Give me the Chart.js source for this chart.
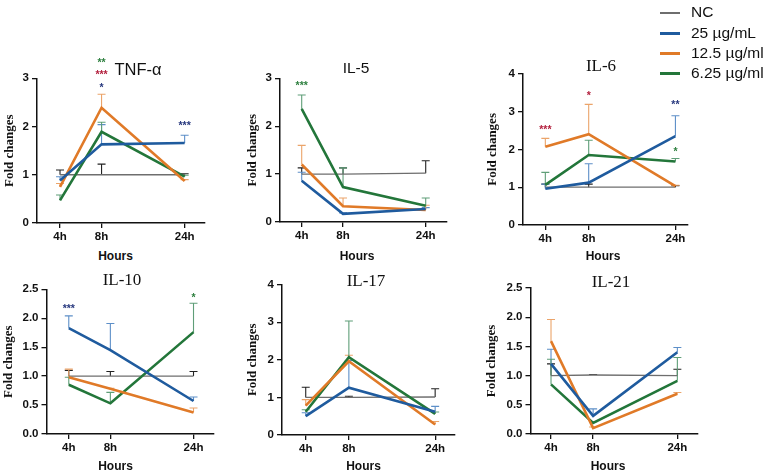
<!DOCTYPE html>
<html>
<head>
<meta charset="utf-8">
<script src="https://cdn.jsdelivr.net/npm/chart.js@4.4.1/dist/chart.umd.min.js"></script>
<style>
  body { margin: 0; background: #fff; }
  #wrap { position: relative; width: 766px; height: 476px; overflow: hidden; font-family: "Liberation Sans", Arial, sans-serif; color: #111; }
  #wrap canvas { position: absolute; }
  .txt { position: absolute; transform: translate(-50%, -50%); white-space: nowrap; line-height: 1; }
  .hrs { font-weight: bold; font-size: 12px; }
  .leg { position: absolute; left: 660px; height: 20px; font-size: 15.5px; line-height: 20px; white-space: nowrap; }
  .leg i { display: inline-block; width: 20px; vertical-align: middle; margin-right: 11px; }
</style>
</head>
<body>
<div id="wrap"></div>
<script>
const hours = ['4h', '8h', '24h']
const hourSlot = [1, 2, 4]
const groups = ['NC', '25 µg/mL', '12.5 µg/ml', '6.25 µg/ml']

// mean fold change per group (NC, 25, 12.5, 6.25), then the upper error
const tnfMean = [[1.00, 1.00, 1.00], [0.88, 1.63, 1.66], [0.75, 2.39, 0.87], [0.47, 1.89, 0.96]]
const tnfErr = [[0.10, 0.22, 0.02], [0.08, 0.41, 0.16], [0.07, 0.28, 0.03], [0.11, 0.20, 0.03]]
const il5Mean = [[1.00, 1.00, 1.02], [0.86, 0.17, 0.27], [1.20, 0.33, 0.25], [2.36, 0.73, 0.34]]
const il5Err = [[0.13, 0.13, 0.26], [0.18, 0.02, 0.03], [0.40, 0.17, 0.10], [0.29, 0.40, 0.16]]
const il6Mean = [[1.00, 1.00, 1.00], [0.96, 1.12, 2.35], [2.07, 2.40, 1.03], [1.06, 1.85, 1.68]]
const il6Err = [[0.08, 0.08, 0.04], [0.12, 0.50, 0.54], [0.22, 0.79, 0.02], [0.33, 0.39, 0.08]]
const il10Mean = [[1.00, 1.00, 1.00], [1.83, 1.45, 0.57], [0.98, 0.78, 0.37], [0.85, 0.53, 1.76]]
const il10Err = [[0.10, 0.08, 0.08], [0.21, 0.46, 0.07], [0.14, 0.01, 0.08], [0.13, 0.19, 0.50]]
const il17Mean = [[1.00, 1.00, 1.01], [0.50, 1.26, 0.62], [0.78, 1.96, 0.28], [0.62, 2.07, 0.56]]
const il17Err = [[0.27, 0.03, 0.22], [0.09, 0.72, 0.14], [0.16, 0.16, 0.08], [0.05, 0.96, 0.05]]
const il21Mean = [[1.00, 1.01, 1.00], [1.20, 0.31, 1.40], [1.59, 0.10, 0.69], [0.85, 0.19, 0.91]]
const il21Err = [[0.20, 0.01, 0.11], [0.25, 0.12, 0.08], [0.37, 0.02, 0.02], [0.43, 0.02, 0.40]]

// significance marks: [hour index, group index, mark, level on the y axis]
const tnfStars = [[1, 3, '**', 3.38], [1, 2, '***', 3.14], [1, 1, '*', 2.86], [2, 1, '***', 2.08]]
const il5Stars = [[0, 3, '***', 2.9]]
const il6Stars = [[0, 2, '***', 2.58], [1, 2, '*', 3.5], [2, 1, '**', 3.24], [2, 3, '*', 2.0]]
const il10Stars = [[0, 1, '***', 2.21], [2, 3, '*', 2.40]]

const lineColors = ['#6e6e6e', '#1f5b9e', '#e07a28', '#23763a']
const errColors = ['#222', '#5d8fc8', '#eba46a', '#5f9e78']
const starColors = ['#222', '#27387e', '#b3203e', '#2f8040']

const panels = [
  { title: 'TNF-α', serif: false, fs: 16.5, tx: 138, ty: 69, top: 0, L: 37, R: 205, T: 78.3, B: 222.7, yt: 10, xmin: 0.446, xmax: 4.49, ymax: 3, step: 1, hx: 115.5, hy: 256, mean: tnfMean, err: tnfErr, stars: tnfStars },
  { title: 'IL-5', serif: false, fs: 15.5, tx: 356, ty: 68, top: 0, L: 280, R: 447, T: 78.3, B: 221.7, yt: 253, xmin: 0.475, xmax: 4.515, ymax: 3, step: 1, hx: 357, hy: 256, mean: il5Mean, err: il5Err, stars: il5Stars },
  { title: 'IL-6', serif: true, fs: 17, tx: 601, ty: 65, top: 0, L: 523, R: 688, T: 73.7, B: 225, yt: 493, xmin: 0.485, xmax: 4.29, ymax: 4, step: 1, hx: 603, hy: 256, mean: il6Mean, err: il6Err, stars: il6Stars },
  { title: 'IL-10', serif: true, fs: 17, tx: 122, ty: 279, top: 262, L: 46.5, R: 213.3, T: 289.3, B: 434.3, yt: 9, xmin: 0.464, xmax: 4.476, ymax: 2.5, step: 0.5, hx: 115.5, hy: 466, mean: il10Mean, err: il10Err, stars: il10Stars },
  { title: 'IL-17', serif: true, fs: 17, tx: 366, ty: 280, top: 262, L: 282, R: 455, T: 284.6, B: 434.8, yt: 253, xmin: 0.45, xmax: 4.46, ymax: 4, step: 1, hx: 363.5, hy: 466, mean: il17Mean, err: il17Err, stars: [] },
  { title: 'IL-21', serif: true, fs: 17, tx: 611, ty: 281, top: 262, L: 530.5, R: 698, T: 288, B: 433.5, yt: 492, xmin: 0.513, xmax: 4.49, ymax: 2.5, step: 0.5, hx: 608, hy: 466, mean: il21Mean, err: il21Err, stars: [] }
]

const sans = '"Liberation Sans", Arial, sans-serif'
const serif = '"Liberation Serif", "Times New Roman", serif'
const wrap = document.getElementById('wrap')

const errorBars = {
  id: 'errorBars',
  beforeDatasetsDraw(chart) {
    const { ctx, scales: { x, y } } = chart
    chart.data.datasets.forEach((ds, i) => {
      ctx.save()
      ctx.strokeStyle = errColors[i]
      ctx.lineWidth = 1.1
      ds.data.forEach((pt, j) => {
        const px = x.getPixelForValue(pt.x)
        const y0 = y.getPixelForValue(pt.y)
        const y1 = y.getPixelForValue(pt.y + ds.errs[j])
        ctx.beginPath()
        ctx.moveTo(px, y0)
        ctx.lineTo(px, y1)
        ctx.moveTo(px - 4, y1)
        ctx.lineTo(px + 4, y1)
        ctx.stroke()
      })
      ctx.restore()
    })
  },
  afterDraw(chart, args, opts) {
    const { ctx, scales: { x, y } } = chart
    ctx.save()
    ctx.font = 'bold 10.5px ' + sans
    ctx.textAlign = 'center'
    ctx.textBaseline = 'alphabetic'
    opts.stars.forEach(s => {
      ctx.fillStyle = starColors[s[1]]
      ctx.fillText(s[2], x.getPixelForValue(hourSlot[s[0]]), y.getPixelForValue(s[3]) + 6)
    })
    ctx.restore()
  }
}

function addText(cls, text, x, y, css) {
  const d = document.createElement('div')
  d.className = 'txt ' + cls
  d.textContent = text
  d.style.left = x + 'px'
  d.style.top = y + 'px'
  Object.assign(d.style, css || {})
  wrap.appendChild(d)
}

function makePanel(p) {
  const left = Math.round(p.yt - 8)
  const yW = p.L - left
  const w = Math.round(p.R + 14 - left)
  const h = Math.round(p.B + 26 - p.top)
  const canvas = document.createElement('canvas')
  canvas.width = w
  canvas.height = h
  canvas.style.left = left + 'px'
  canvas.style.top = p.top + 'px'
  canvas.style.width = w + 'px'
  canvas.style.height = h + 'px'
  wrap.appendChild(canvas)

  const tickFont = { family: sans, size: 11.5, weight: 'bold' }
  const axisGrid = { drawOnChartArea: false, tickLength: 5, color: '#111', lineWidth: 1.3 }
  const axisBorder = { color: '#111', width: 1.5 }

  new Chart(canvas, {
    type: 'line',
    data: {
      datasets: groups.map((g, i) => ({
        label: g,
        data: hours.map((hr, j) => ({ x: hourSlot[j], y: p.mean[i][j] })),
        errs: p.err[i],
        borderColor: lineColors[i],
        borderWidth: i === 0 ? 1.3 : 2.6,
        pointRadius: 0,
        tension: 0,
        order: i === 0 ? 1 : 0
      }))
    },
    options: {
      responsive: false,
      animation: false,
      devicePixelRatio: 1,
      layout: { padding: { top: p.T - p.top, right: w - (p.R - left), bottom: 0, left: 0 } },
      plugins: {
        legend: { display: false },
        tooltip: { enabled: false },
        errorBars: { stars: p.stars }
      },
      scales: {
        x: {
          type: 'linear',
          min: p.xmin,
          max: p.xmax,
          afterBuildTicks: s => { s.ticks = hourSlot.map(v => ({ value: v })) },
          afterFit: s => { s.height = 26 },
          ticks: {
            callback: v => hours[hourSlot.indexOf(v)],
            font: tickFont, color: '#111', padding: 2, maxRotation: 0, autoSkip: false
          },
          grid: axisGrid,
          border: axisBorder
        },
        y: {
          min: 0,
          max: p.ymax,
          afterFit: s => { s.width = yW },
          ticks: {
            stepSize: p.step,
            callback: v => p.step < 1 ? v.toFixed(1) : v,
            font: tickFont, color: '#111', padding: 3
          },
          grid: axisGrid,
          border: axisBorder,
          title: {
            display: true, text: 'Fold changes', color: '#111', padding: 0,
            font: { family: serif, size: 13, weight: 'bold' }
          }
        }
      }
    },
    plugins: [errorBars]
  })

  addText('', p.title, p.tx, p.ty, { fontFamily: p.serif ? serif : sans, fontSize: p.fs + 'px' })
  addText('hrs', 'Hours', p.hx, p.hy)
}

panels.forEach(makePanel)

// legend
const legendY = [12, 33, 53, 73]
groups.forEach((g, i) => {
  const d = document.createElement('div')
  d.className = 'leg'
  d.style.top = (legendY[i] - 10) + 'px'
  const sw = document.createElement('i')
  sw.style.borderTop = (i === 0 ? 2 : 3) + 'px solid ' + lineColors[i]
  d.appendChild(sw)
  d.appendChild(document.createTextNode(g))
  wrap.appendChild(d)
})
</script>
</body>
</html>
